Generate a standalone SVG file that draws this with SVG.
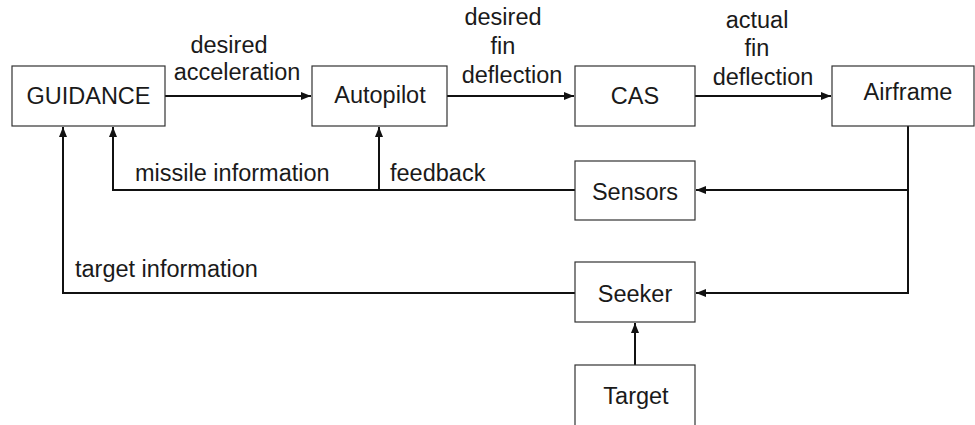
<svg xmlns="http://www.w3.org/2000/svg" width="975" height="425" viewBox="0 0 975 425">
<style>
.box{fill:#fff;stroke:#333;stroke-width:1.2}
.t{font-family:"Liberation Sans",Arial,sans-serif;font-size:23.5px;fill:#1a1a1a}
.m{text-anchor:middle}
.c{fill:none;stroke:#111;stroke-width:2}
</style>
<defs>
<marker id="ah" markerWidth="10" markerHeight="8" refX="10" refY="4" orient="auto" markerUnits="userSpaceOnUse">
<path d="M0,0 L10,4 L0,8 Z" fill="#111"/>
</marker>
</defs>
<rect width="975" height="425" fill="#fff"/>
<g id="connectors">
<line class="c" x1="165" y1="96" x2="311" y2="96" marker-end="url(#ah)"/>
<line class="c" x1="447" y1="96" x2="574" y2="96" marker-end="url(#ah)"/>
<line class="c" x1="695" y1="96" x2="831" y2="96" marker-end="url(#ah)"/>
<polyline class="c" points="908,126 908,190 696,190" marker-end="url(#ah)"/>
<polyline class="c" points="908,190 908,293 696,293" marker-end="url(#ah)"/>
<polyline class="c" points="575,190 113,190 113,127" marker-end="url(#ah)"/>
<line class="c" x1="379" y1="190" x2="379" y2="127" marker-end="url(#ah)"/>
<polyline class="c" points="575,293 63,293 63,127" marker-end="url(#ah)"/>
<line class="c" x1="635" y1="365" x2="635" y2="323" marker-end="url(#ah)"/>
<text class="t m" x="229" y="53">desired</text>
<text class="t m" x="237" y="80">acceleration</text>
<text class="t m" x="503" y="25">desired</text>
<text class="t m" x="503" y="54">fin</text>
<text class="t m" x="512" y="83">deflection</text>
<text class="t m" x="757" y="28">actual</text>
<text class="t m" x="757" y="56">fin</text>
<text class="t m" x="763" y="85">deflection</text>
<text class="t" x="135" y="181">missile information</text>
<text class="t" x="390" y="181">feedback</text>
<text class="t" x="75" y="277">target information</text>
</g>
<g id="guidance"><rect class="box" x="12" y="66" width="153" height="60"/><text class="t m" x="88.5" y="104">GUIDANCE</text></g>
<g id="autopilot"><rect class="box" x="312" y="66" width="135" height="60"/><text class="t m" x="380" y="103">Autopilot</text></g>
<g id="cas"><rect class="box" x="575" y="66" width="120" height="60"/><text class="t m" x="635" y="104">CAS</text></g>
<g id="airframe"><rect class="box" x="832" y="66" width="142" height="60"/><text class="t m" x="908" y="100">Airframe</text></g>
<g id="sensors"><rect class="box" x="575" y="161" width="120" height="59"/><text class="t m" x="635" y="200">Sensors</text></g>
<g id="seeker"><rect class="box" x="575" y="262" width="120" height="60"/><text class="t m" x="635" y="302">Seeker</text></g>
<g id="target"><rect class="box" x="575" y="365" width="120" height="70"/><text class="t m" x="636" y="404">Target</text></g>
</svg>
